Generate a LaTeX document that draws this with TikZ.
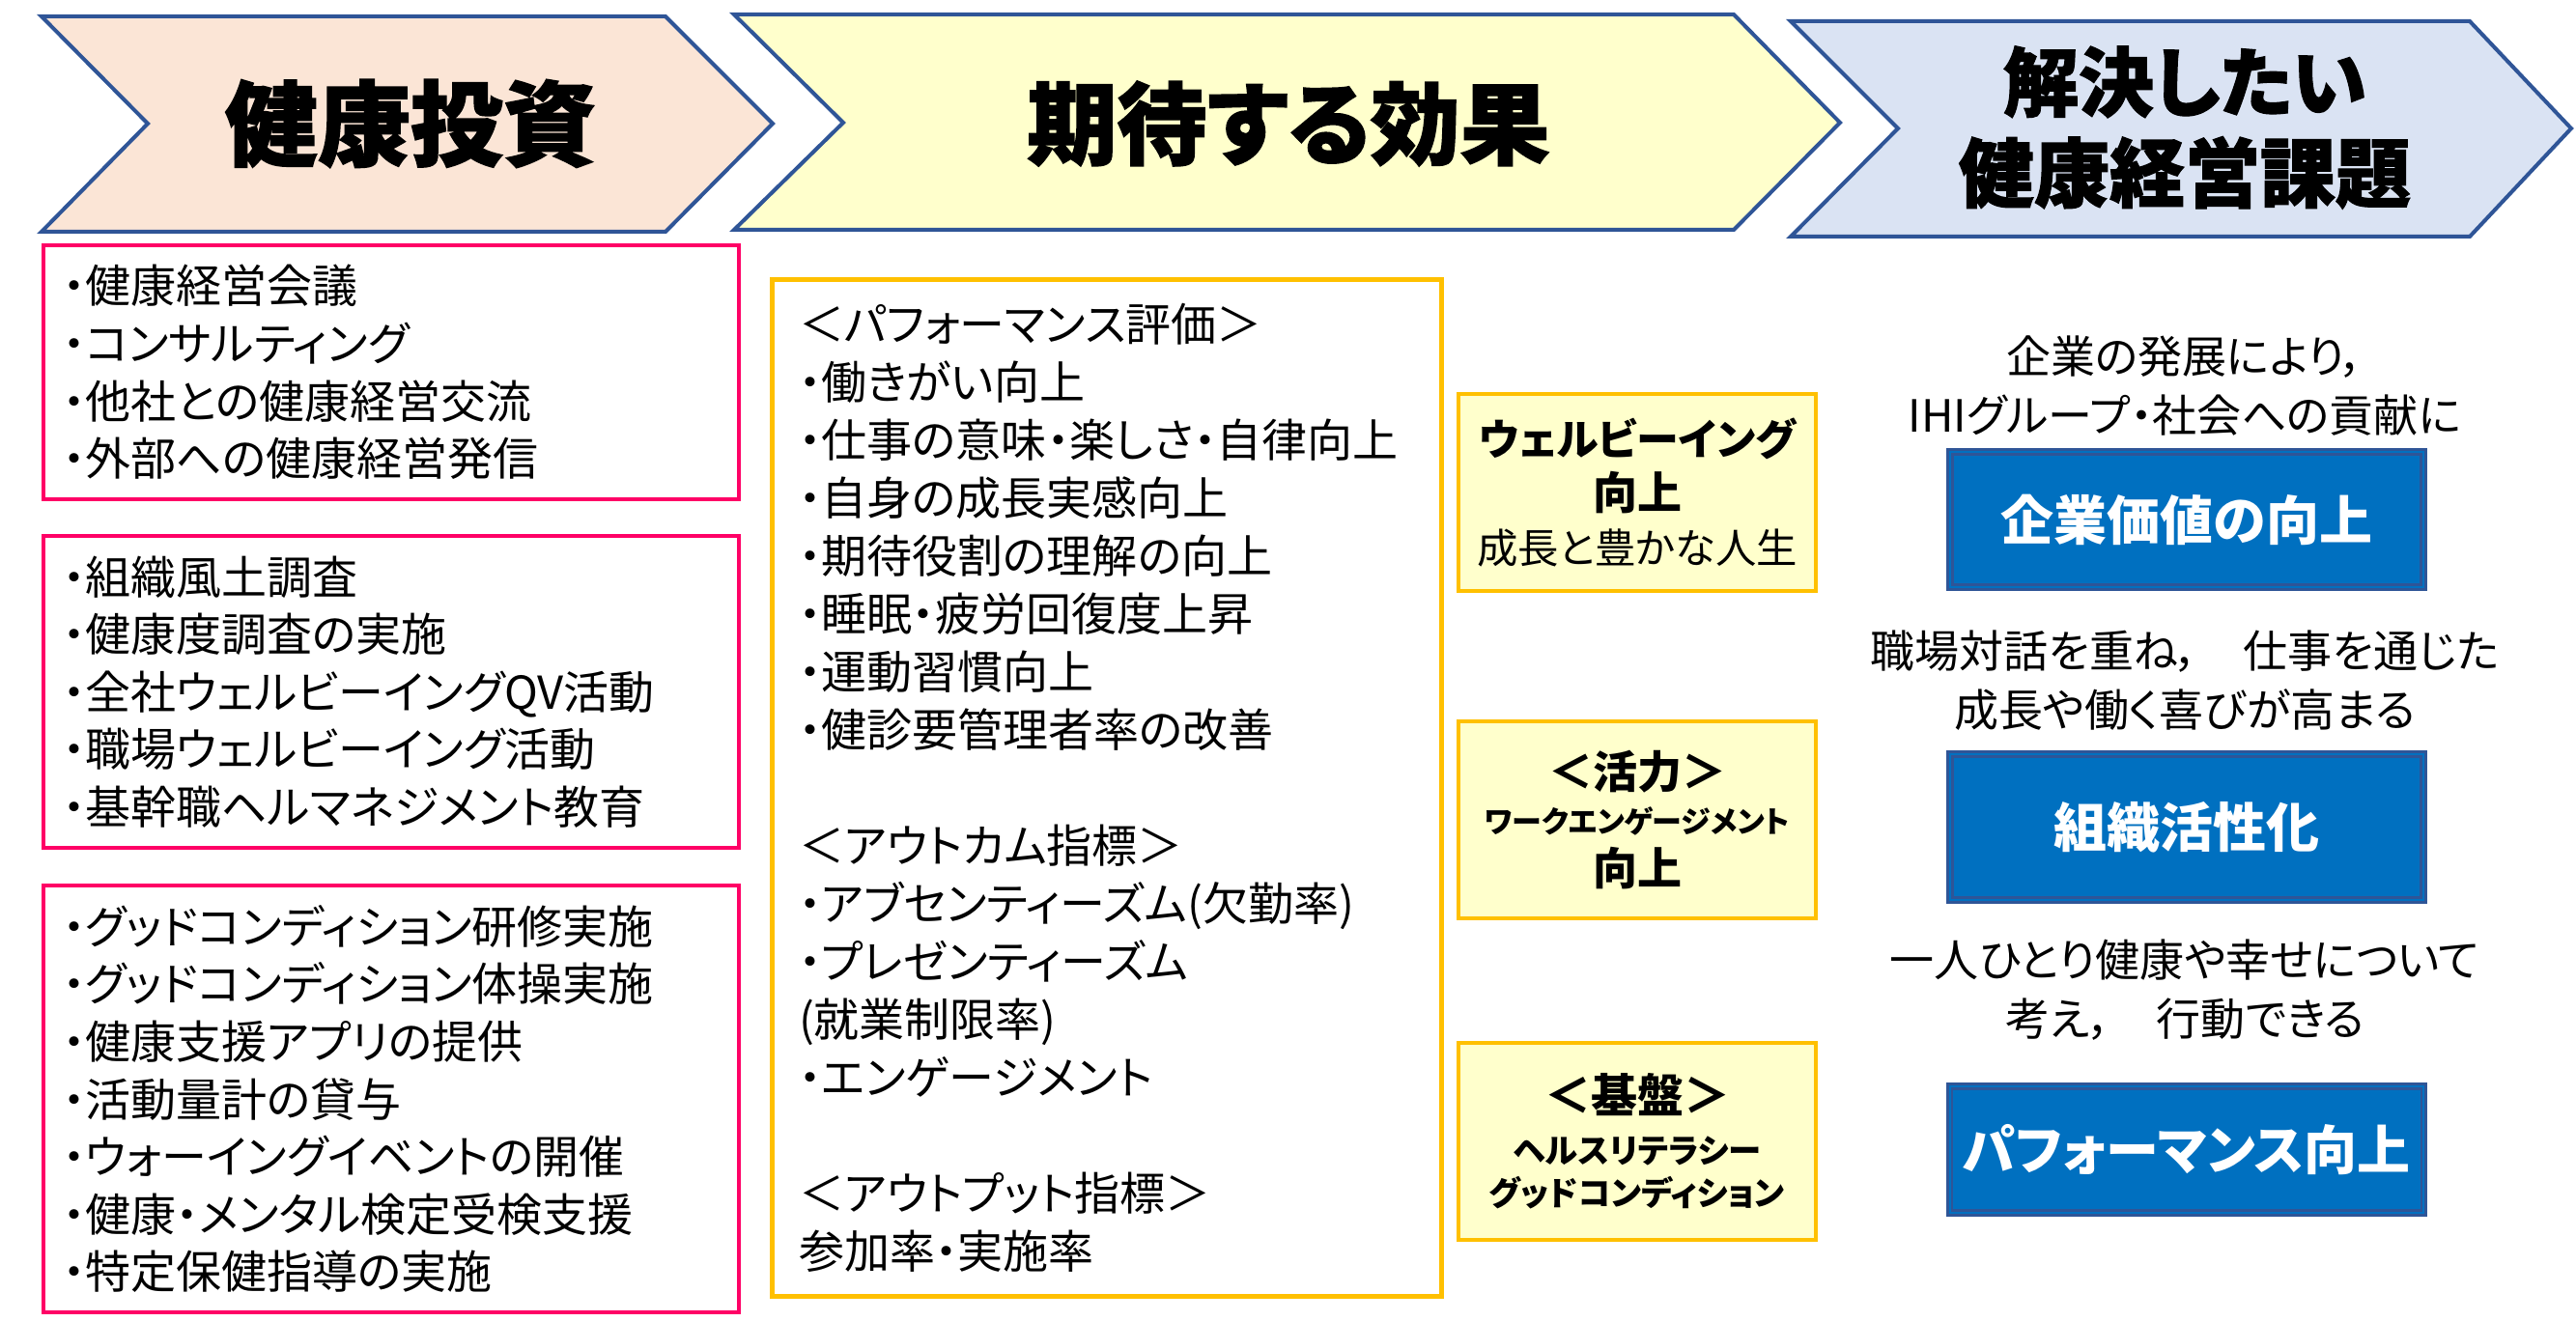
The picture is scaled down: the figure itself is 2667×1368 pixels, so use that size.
\documentclass[tikz,border=0pt]{standalone}
\usepackage{fontspec}
\setmainfont{Noto Sans CJK JP}[RawFeature=+palt]
\usepackage{xcolor}
\usepackage{tikz}
\usetikzlibrary{positioning}
\definecolor{bandblue}{RGB}{47,85,151}
\definecolor{investfill}{RGB}{251,229,214}
\definecolor{efffill}{RGB}{255,255,204}
\definecolor{issuefill}{RGB}{218,227,243}
\definecolor{listpink}{RGB}{255,0,102}
\definecolor{effgold}{RGB}{255,192,0}
\definecolor{valueblue}{RGB}{0,112,192}

\begin{document}
\begin{tikzpicture}[
  x=0.25pt, y=-0.25pt,
  band/.style={draw=bandblue,line width=1pt},
  bandtitle/.style={align=center,
                    font=\bfseries\addfontfeature{FakeBold=1.5}\fontsize{24pt}{28pt}\selectfont},
  invbox/.style={draw=listpink,line width=1pt,minimum width=180pt,
                 inner xsep=5pt,text width=170pt,align=left,
                 font=\fontsize{11.75pt}{14.9pt}\selectfont},
  effbox/.style={draw=effgold,line width=1.25pt,minimum width=173.25pt,
                 minimum height=263pt,inner xsep=7pt,text width=159.25pt,
                 align=left,font=\fontsize{11.75pt}{15pt}\selectfont},
  wellbox/.style={draw=effgold,line width=1pt,fill=efffill,minimum width=92.5pt,
                  minimum height=51pt,align=center,inner sep=0pt},
  issuetext/.style={align=center,font=\fontsize{11.5pt}{15.25pt}\selectfont},
  issuebox/.style={draw=bandblue,line width=0.6pt,double=valueblue,
                   double distance=0.6pt,fill=valueblue,text=white,
                   minimum width=122.5pt,
                   font=\bfseries\fontsize{13.75pt}{16pt}\selectfont}
]
\useasboundingbox (0,0) rectangle (2667,1368);

% header bands
\draw[band,fill=investfill] (43,17) -- (689,17) -- (800,128) -- (689,240)
  -- (43,240) -- (153,128) -- cycle;
\draw[band,fill=efffill] (760,15) -- (1795,15) -- (1905,127) -- (1795,238)
  -- (760,238) -- (873,127) -- cycle;
\draw[band,fill=issuefill] (1854,22) -- (2557,22) -- (2662,133) -- (2557,245)
  -- (1854,245) -- (1965,133) -- cycle;

\node[bandtitle] (investtitle) at (425,128) {健康投資};
\node[bandtitle,font=\bfseries\addfontfeature{FakeBold=1.5}\fontsize{23.25pt}{28pt}\selectfont]
  (efftitle) at (1334,128) {期待する効果};
\node[bandtitle,font=\bfseries\addfontfeature{FakeBold=1.5}\fontsize{19.5pt}{23.5pt}\selectfont]
  (issuetitle) at (2262,132) {解決したい\\健康経営課題};

% investments
\node[invbox,minimum height=65.75pt] (invA) at (405,385.5)
  {・健康経営会議\\・コンサルティング\\・他社との健康経営交流\\・外部への健康経営発信};
\node[invbox,minimum height=80.75pt,below=8.5pt of invA] (invB)
  {・組織風土調査\\・健康度調査の実施\\・全社ウェルビーイングQV活動\\・職場ウェルビーイング活動\\・基幹職ヘルマネジメント教育};
\node[invbox,minimum height=110.5pt,below=8.75pt of invB] (invC)
  {・グッドコンディション研修実施\\・グッドコンディション体操実施\\・健康支援アプリの提供\\・活動量計の貸与\\・ウォーイングイベントの開催\\・健康・メンタル検定受検支援\\・特定保健指導の実施};

% expected effects
\node[effbox] (effect) at (1145.5,816)
  {＜パフォーマンス評価＞\\・働きがい向上\\・仕事の意味・楽しさ・自律向上\\・自身の成長実感向上\\・期待役割の理解の向上\\・睡眠・疲労回復度上昇\\・運動習慣向上\\・健診要管理者率の改善\\[15pt]＜アウトカム指標＞\\・アブセンティーズム(欠勤率)\\・プレゼンティーズム\\(就業制限率)\\・エンゲージメント\\[15pt]＜アウトプット指標＞\\参加率・実施率};

\node[wellbox,font=\fontsize{11pt}{14pt}\selectfont] (wellA) at (1695,510)
  {{\bfseries\fontsize{11pt}{14pt}\selectfont ウェルビーイング}\\
   {\bfseries\fontsize{11.5pt}{14pt}\selectfont 向上}\\
   {\fontsize{10.6pt}{14pt}\selectfont 成長と豊かな人生}};
\node[wellbox,below=32.75pt of wellA,font=\bfseries\fontsize{11.5pt}{13.5pt}\selectfont] (wellB)
  {＜活力＞\\[-2pt]{\fontsize{7.75pt}{10pt}\selectfont ワークエンゲージメント}\\向上};
\node[wellbox,below=31.25pt of wellB,font=\bfseries\fontsize{8.6pt}{11pt}\selectfont] (wellC)
  {{\fontsize{12pt}{14pt}\selectfont ＜基盤＞}\\[2pt]ヘルスリテラシー\\グッドコンディション};

% issues to solve
\node[issuetext] (valuecap) at (2262,400) {企業の発展により，\\IHIグループ・社会への貢献に};
\node[issuebox,minimum height=35pt] (valuebox) at (2264,538) {企業価値の向上};
\node[issuetext] (activecap) at (2262,704.5) {職場対話を重ね，　仕事を通じた\\成長や働く喜びが高まる};
\node[issuebox,minimum height=37.75pt] (activebox) at (2264,856.5) {組織活性化};
\node[issuetext] (perfcap) at (2262,1025.5) {一人ひとり健康や幸せについて\\考え，　行動できる};
\node[issuebox,minimum height=32.75pt] (perfbox) at (2264,1190.5) {パフォーマンス向上};
\end{tikzpicture}
\end{document}
